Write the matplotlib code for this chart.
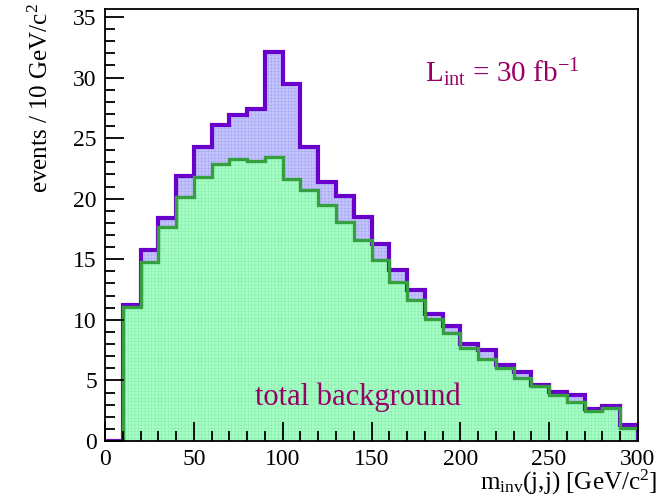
import numpy as np
import matplotlib
matplotlib.use('Agg')
from matplotlib import pyplot as plt
from matplotlib.ticker import MultipleLocator

plt.rcParams['font.family'] = ['Liberation Serif', 'DejaVu Serif']
plt.rcParams['mathtext.fontset'] = 'custom'
plt.rcParams['mathtext.rm'] = 'Liberation Serif'
plt.rcParams['mathtext.it'] = 'Liberation Serif'
plt.rcParams['hatch.linewidth'] = 0.4

# invariant mass binning, 10 GeV/c^2 per bin
bin_edges = np.arange(0, 310, 10)

# signal + background per bin
total = [0.0, 11.2, 15.8, 18.4, 21.9, 24.3, 26.1, 26.9, 27.4, 32.1,
         29.5, 24.3, 21.4, 20.2, 18.5, 16.3, 14.1, 12.5, 10.5, 9.5,
         8.0, 7.55, 6.25, 5.7, 4.6, 4.05, 3.8, 2.6, 2.85, 1.3]

# total background per bin
background = [0.0, 11.05, 14.8, 17.7, 20.1, 21.8, 22.9, 23.3, 23.1, 23.4,
              21.6, 20.7, 19.5, 18.1, 16.6, 14.9, 13.1, 11.6, 10.1, 8.9,
              7.7, 6.75, 6.0, 5.2, 4.55, 3.8, 3.2, 2.45, 2.75, 1.05]

fig = plt.figure(figsize=(6.7, 4.97), dpi=100)
ax = fig.add_axes([0.157, 0.1127, 0.795, 0.8693])

# filled histograms, signal+background underneath the background
ax.stairs(total, bin_edges, fill=True, facecolor='#c4c4ff', edgecolor='#a8a8f0',
          hatch='+++++', linewidth=0)
ax.stairs(background, bin_edges, fill=True, facecolor='#a4ffc4', edgecolor='#8eeab0',
          hatch='+++++', linewidth=0)
ax.stairs(total, bin_edges, color='#6a00cc', linewidth=3.0)
ax.stairs(background, bin_edges, color='#36a040', linewidth=2.4)

ax.set_xlim(0, 300)
ax.set_ylim(0, 35.66)

ax.xaxis.set_major_locator(MultipleLocator(50))
ax.xaxis.set_minor_locator(MultipleLocator(10))
ax.yaxis.set_major_locator(MultipleLocator(5))
ax.yaxis.set_minor_locator(MultipleLocator(1))
ax.tick_params(which='both', direction='in', top=False, right=False,
               labelsize=17, width=1.3, pad=6)
ax.tick_params(which='major', length=14)
ax.tick_params(which='minor', length=7)
for side in ax.spines.values():
    side.set_linewidth(1.3)
ax.set_axisbelow(False)

# axis titles placed ROOT-style at the far ends
fig.text(41 / 670, 1 - 3 / 497, r'events / 10 GeV/c$^{2}$', rotation=90,
         ha='center', va='top', fontsize=18)
fig.text(657 / 670, 7 / 497, r'm$_{\rm inv}$(j,j) [GeV/c$^{2}$]',
         ha='right', va='baseline', fontsize=18)

ax.text(0.600, 0.831, r'L$_{\rm int}$ = 30 fb$^{-1}$', transform=ax.transAxes,
        fontsize=21, color='#990066', va='baseline')
ax.text(0.281, 0.083, 'total background', transform=ax.transAxes,
        fontsize=22, color='#990066', va='baseline')

fig.savefig('out.png', dpi=100)
